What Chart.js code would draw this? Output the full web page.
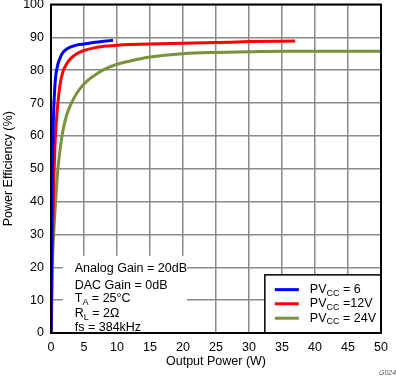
<!DOCTYPE html>
<html>
<head>
<meta charset="utf-8">
<script src="https://cdn.jsdelivr.net/npm/chart.js@4"></script>
<style>
html,body{margin:0;padding:0;background:#fff;}
#wrap{width:396px;height:377px;position:relative;}
</style>
</head>
<body>
<div id="wrap"><canvas id="c"></canvas></div>
<script>
// Data (x = Output Power W, y = Efficiency %)
const pvcc6X  = [0.02, 0.08, 0.15, 0.25, 0.35, 0.5, 0.7, 0.9, 1.1, 1.5, 1.9, 2.5, 3.0, 4.0, 5.0, 6.7, 8.0, 9.4];
const pvcc6Y  = [0, 20, 40, 55, 64, 72, 78, 80.5, 82.2, 84.3, 85.6, 86.6, 87.1, 87.7, 88, 88.5, 88.8, 89.1];
const pvcc12X = [0.03, 0.15, 0.3, 0.45, 0.6, 0.8, 1.0, 1.36, 1.8, 2.4, 3.0, 3.9, 5.0, 6.5, 8, 10, 12, 15, 20, 25, 30, 37];
const pvcc12Y = [0, 20, 35, 48, 57, 64, 69, 75.5, 79.5, 82, 83.6, 85, 86, 86.8, 87.3, 87.6, 87.8, 88, 88.2, 88.4, 88.7, 88.9];
const pvcc24X = [0.05, 0.2, 0.4, 0.7, 1.0, 1.36, 1.8, 2.4, 3.1, 3.9, 5.0, 5.8, 7, 8, 10, 12, 15, 20, 25, 30, 35, 50];
const pvcc24Y = [0, 20, 30, 40, 49, 55.5, 61.5, 66.5, 70, 73, 75.8, 77.3, 79, 80.2, 81.8, 82.8, 84, 85, 85.4, 85.6, 85.8, 85.8];
const xTicks = [0, 5, 10, 15, 20, 25, 30, 35, 40, 45, 50];
const yTicks = [0, 10, 20, 30, 40, 50, 60, 70, 80, 90, 100];
const seriesNames = ['PVCC = 6', 'PVCC =12V', 'PVCC = 24V'];
const legendSuffix = [' = 6', ' =12V', ' = 24V'];
const colors = ['#0000ff', '#ff0000', '#77933c'];
const notes = ['Analog Gain = 20dB', 'DAC Gain = 0dB', ['T', 'A', ' = 25°C'], ['R', 'L', ' = 2Ω'], 'fs = 384kHz'];

const toPts = (xs, ys) => xs.map((x, i) => ({x: x, y: ys[i]}));
const FONT = '"Liberation Sans", Arial, sans-serif';

function drawSub(ctx, x, y, main, sub, rest, size) {
  ctx.font = size + 'px ' + FONT;
  ctx.fillText(main, x, y);
  let w = ctx.measureText(main).width;
  ctx.font = Math.round(size * 0.72) + 'px ' + FONT;
  ctx.fillText(sub, x + w, y + size * 0.3);
  w += ctx.measureText(sub).width;
  ctx.font = size + 'px ' + FONT;
  ctx.fillText(rest, x + w, y);
}

const boxesPlugin = {
  id: 'boxes',
  beforeDatasetsDraw(chart) {
    const ctx = chart.ctx;
    const xs = chart.scales.x, ys = chart.scales.y;
    ctx.save();
    const l = xs.getPixelForValue(1.8), r = xs.getPixelForValue(20.6);
    const t = ys.getPixelForValue(23.5), b = ys.getPixelForValue(0);
    ctx.fillStyle = '#fff';
    ctx.fillRect(l, t, r - l, b - t - 1);
    ctx.fillStyle = '#000';
    ctx.textBaseline = 'middle';
    const nx = xs.getPixelForValue(3.6);
    const ny = [19.5, 14.3, 10.4, 5.9, 1.6];
    notes.forEach((n, i) => {
      const y = ys.getPixelForValue(ny[i]);
      if (Array.isArray(n)) drawSub(ctx, nx, y, n[0], n[1], n[2], 12.5);
      else { ctx.font = '12.5px ' + FONT; ctx.fillText(n, nx, y); }
    });
    ctx.restore();
  },
  afterDraw(chart) {
    const ctx = chart.ctx;
    const a = chart.chartArea;
    const xs = chart.scales.x, ys = chart.scales.y;
    ctx.save();
    const l = xs.getPixelForValue(32.4), t = ys.getPixelForValue(17.7);
    const r = a.right, b = a.bottom;
    ctx.fillStyle = '#fff';
    ctx.fillRect(l, t, r - l, b - t);
    ctx.strokeStyle = '#000';
    ctx.lineWidth = 1.5;
    ctx.strokeRect(l, t, r - l, b - t);
    const rowY = [13.2, 8.9, 4.5];
    ctx.textBaseline = 'middle';
    colors.forEach((c, i) => {
      const y = ys.getPixelForValue(rowY[i]);
      ctx.strokeStyle = c;
      ctx.lineWidth = 3;
      ctx.beginPath();
      ctx.moveTo(l + 10, y);
      ctx.lineTo(l + 34, y);
      ctx.stroke();
      ctx.fillStyle = '#000';
      drawSub(ctx, l + 45, y, 'PV', 'CC', legendSuffix[i], 12.5);
    });
    ctx.strokeStyle = '#000';
    ctx.lineWidth = 2;
    ctx.strokeRect(a.left, a.top, a.right - a.left, a.bottom - a.top);
    ctx.fillStyle = '#555';
    ctx.font = 'italic 7px ' + FONT;
    ctx.textBaseline = 'middle';
    ctx.fillText('G024', 379, 373);
    ctx.restore();
  }
};

new Chart(document.getElementById('c'), {
  type: 'line',
  data: {
    datasets: [
      {label: seriesNames[0], data: toPts(pvcc6X, pvcc6Y), borderColor: colors[0]},
      {label: seriesNames[1], data: toPts(pvcc12X, pvcc12Y), borderColor: colors[1]},
      {label: seriesNames[2], data: toPts(pvcc24X, pvcc24Y), borderColor: colors[2]}
    ].map(d => Object.assign(d, {borderWidth: 3, pointRadius: 0, fill: false, cubicInterpolationMode: 'monotone', borderCapStyle: 'butt'}))
  },
  options: {
    responsive: true,
    maintainAspectRatio: false,
    animation: false,
    layout: {padding: {top: 4.5, right: 15, left: 0, bottom: 0}},
    plugins: {legend: {display: false}, tooltip: {enabled: false}},
    scales: {
      x: {
        type: 'linear', min: 0, max: 50,
        afterBuildTicks: s => { s.ticks = xTicks.map(v => ({value: v})); },
        afterFit: s => { s.height = 44; s.paddingLeft = 0; s.paddingRight = 0; },
        grid: {color: '#8a8a8a', lineWidth: 1.5, drawTicks: false},
        border: {display: false},
        ticks: {color: '#000', padding: 7, font: {family: FONT, size: 12.5}, maxRotation: 0, autoSkip: false},
        title: {display: true, text: 'Output Power (W)', color: '#000', font: {family: FONT, size: 12.5}, padding: {top: 0, bottom: 8}}
      },
      y: {
        min: 0, max: 100,
        afterBuildTicks: s => { s.ticks = yTicks.map(v => ({value: v})); },
        afterFit: s => { s.width = 51; s.paddingTop = 0; s.paddingBottom = 0; },
        grid: {color: '#8a8a8a', lineWidth: 1.5, drawTicks: false},
        border: {display: false},
        ticks: {color: '#000', padding: 7, font: {family: FONT, size: 12.5}, autoSkip: false},
        title: {display: true, text: 'Power Efficiency (%)', color: '#000', font: {family: FONT, size: 12.5}, padding: {top: 1, bottom: 0}}
      }
    }
  },
  plugins: [boxesPlugin]
});
</script>
</body>
</html>
